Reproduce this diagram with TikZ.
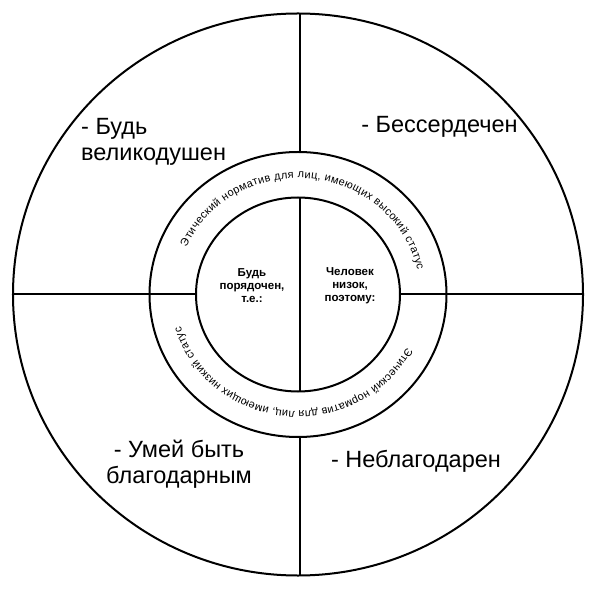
\documentclass[tikz,border=0pt]{standalone}
\usepackage{fontspec}
\setmainfont{Liberation Sans}
\usepackage{tikz}
\usetikzlibrary{decorations.text}

\begin{document}
\begin{tikzpicture}[x=1pt, y=1pt,
    ring/.style={line width=2pt},
    spoke/.style={line width=2pt},
    quote/.style={font=\fontsize{23.5}{26}\selectfont, inner sep=0pt},
    core/.style={font=\fontsize{11.5}{13}\selectfont\bfseries, align=center, inner sep=0pt}]
    \useasboundingbox (-298,-293.5) rectangle (295,294.5);

    % Circles
    \draw[ring] (0,0) ellipse [x radius=285, y radius=281];
    \draw[ring] (0,0) ellipse [x radius=148.5, y radius=142.5];
    \draw[ring] (0,0) ellipse [x radius=102, y radius=97];

    % Cross points
    \coordinate (outerN) at (1.5,281);
    \coordinate (outerS) at (1.5,-281);
    \coordinate (outerW) at (-285,0);
    \coordinate (outerE) at (285,0);
    \coordinate (midN) at (1.5,142.5);
    \coordinate (midS) at (1.5,-142.5);
    \coordinate (innerN) at (1.5,97);
    \coordinate (innerS) at (1.5,-97);
    \coordinate (innerW) at (-102,0);
    \coordinate (innerE) at (102,0);

    % Cross
    \draw[spoke] (outerN) -- (midN);
    \draw[spoke] (innerN) -- (innerS);
    \draw[spoke] (midS) -- (outerS);
    \draw[spoke] (outerW) -- (innerW);
    \draw[spoke] (innerE) -- (outerE);

    % Ring texts
    \path[decorate, decoration={text along path, text align=fit to path,
        text={|\fontsize{11}{11}\selectfont|Этический норматив для лиц, имеющих высокий статус}}]
        (156:122 and 116.5) arc[start angle=156, end angle=12, x radius=122, y radius=116.5];
    \path[decorate, decoration={text along path, text align=fit to path,
        text={|\fontsize{11}{11}\selectfont|Этический норматив для лиц, имеющих низкий статус}}]
        (-27:122 and 116.5) arc[start angle=-27, end angle=-164, x radius=122, y radius=116.5];

    % Core
    \node[core] (be) at (-46,8.5) {Будь\\порядочен,\\т.е.:};
    \node[core] (man) at (52,8.5) {Человек\\низок,\\поэтому:};

    % Quarters
    \node[quote, anchor=west, align=left] (generous) at (-217,152.5) {- Будь\\великодушен};
    \node[quote] (heartless) at (141.5,167.5) {- Бессердечен};
    \node[quote, align=center] (grateful) at (-119,-170) {- Умей быть\\благодарным};
    \node[quote] (ungrateful) at (118,-166.5) {- Неблагодарен};
\end{tikzpicture}
\end{document}
